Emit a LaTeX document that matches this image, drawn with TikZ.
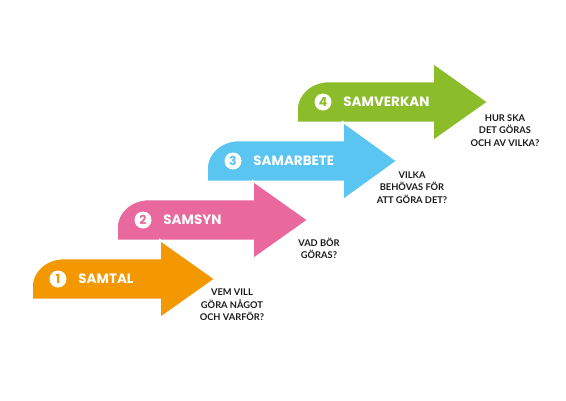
\documentclass[tikz,border=0pt]{standalone}
\usepackage{fontspec}
\setmainfont{Poppins}
\newfontfamily\askfont{Lato}
\usepackage{xcolor}
\usetikzlibrary{positioning}
\definecolor{stageorange}{HTML}{F39800}
\definecolor{stagepink}{HTML}{E9699F}
\definecolor{stageblue}{HTML}{5BC5F2}
\definecolor{stagegreen}{HTML}{8BBD2A}
\definecolor{darkgray}{HTML}{1A1A1A}
\tikzset{
  stagearrow/.style={draw=white, line width=1.6pt, line join=miter},
  stagenum/.style={circle, fill=white, inner sep=0pt, minimum size=17pt, font=\bfseries\fontsize{12.5}{12.5}\selectfont},
  stagename/.style={text=white, anchor=west, inner sep=0pt, font=\bfseries\fontsize{13.5}{14}\selectfont},
  question/.style={darkgray, align=center, anchor=north, inner sep=0pt, font=\askfont\bfseries\fontsize{9.3}{12.3}\selectfont}
}

\begin{document}
\begin{tikzpicture}[x=1pt,y=-1pt]
  \useasboundingbox (0,0) rectangle (566,400);
  % arrows, back to front
  \foreach \lx/\hx/\tx/\cy/\col/\num/\name in {297/433/488/102/stagegreen/4/SAMVERKAN,
      207/343/397/161/stageblue/3/SAMARBETE,
      117/253/308/220/stagepink/2/SAMSYN,
      32/160/215/279/stageorange/1/SAMTAL}{
    \filldraw[stagearrow, fill=\col] (\lx,\cy+20.5) -- (\lx,\cy+7.5)
      .. controls (\lx,\cy-8) and (\lx+14,\cy-20.5) .. (\lx+32,\cy-20.5)
      -- (\hx,\cy-20.5) -- (\hx,\cy-39) -- (\tx,\cy) -- (\hx,\cy+39)
      -- (\hx,\cy+20.5) -- cycle;
    \node[stagenum, text=\col] (num\num) at (\lx+26,\cy) {\num};
    \node[stagename, right=11.5pt of num\num] (name\num) {\name};
  }
  % questions
  \node[question] (ask1) at (232,289) {VEM VILL\\GÖRA NÅGOT\\OCH VARFÖR?};
  \node[question] (ask2) at (319,237.5) {VAD BÖR\\GÖRAS?};
  \node[question] (ask3) at (412,171.5) {VILKA\\BEHÖVAS FÖR\\ATT GÖRA DET?};
  \node[question] (ask4) at (505,114.5) {HUR SKA\\DET GÖRAS\\OCH AV VILKA?};
\end{tikzpicture}
\end{document}
